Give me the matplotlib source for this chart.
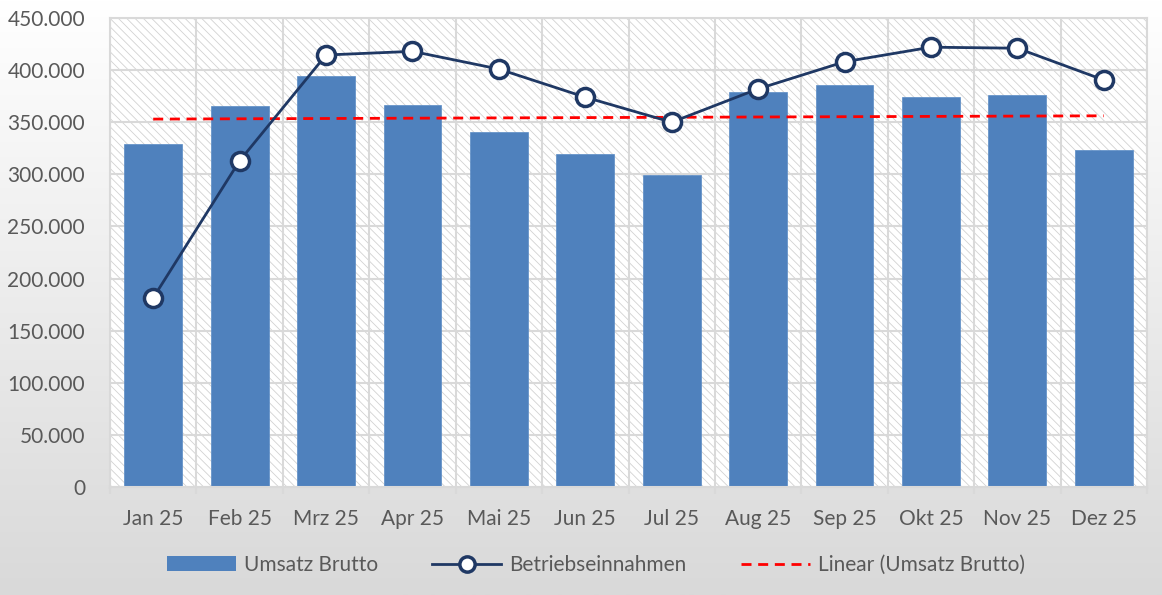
import numpy as np
import matplotlib
matplotlib.use("Agg")
import matplotlib.pyplot as plt
from matplotlib.patches import Rectangle, Patch
from matplotlib.ticker import FuncFormatter
from matplotlib.lines import Line2D
from matplotlib.colors import LinearSegmentedColormap

months = ["Jan 25", "Feb 25", "Mrz 25", "Apr 25", "Mai 25", "Jun 25",
          "Jul 25", "Aug 25", "Sep 25", "Okt 25", "Nov 25", "Dez 25"]
umsatz_brutto = [329000, 366000, 394000, 367000, 341000, 319500,
                 299500, 379000, 386000, 374500, 376000, 323500]
betriebseinnahmen = [181500, 313000, 414500, 418000, 401000, 374000,
                     350000, 382000, 408000, 422000, 421000, 390500]
yticks = [0, 50000, 100000, 150000, 200000, 250000, 300000, 350000, 400000, 450000]

plt.rcParams['font.family'] = ['Lato', 'DejaVu Sans']
plt.rcParams['hatch.linewidth'] = 0.6
plt.rcParams['hatch.color'] = '#d2d2d2'

fig = plt.figure(figsize=(11.62, 5.95), dpi=100)

# background gradient
bg = fig.add_axes([0, 0, 1, 1], zorder=-10)
grad = np.linspace(0, 1, 256).reshape(-1, 1)
cmap = LinearSegmentedColormap.from_list("g", ["#ffffff", "#d9d9d9"])
bg.imshow(grad, aspect='auto', cmap=cmap, extent=[0, 1, 0, 1], origin='upper')
bg.axis('off')

ax = fig.add_axes([110/1162, (595-487)/595, (1147-110)/1162, (487-18)/595])
ax.set_facecolor('white')
x = np.arange(len(months))
ax.set_xlim(-0.5, len(months) - 0.5)
ax.set_ylim(0, 450000)

ax.add_patch(Rectangle((0, 0), 1, 1, transform=ax.transAxes, facecolor='white',
                       hatch='\\\\\\\\', edgecolor='#d2d2d2', linewidth=0, zorder=0))

# gridlines
for yv in yticks:
    ax.axhline(yv, color='#d9d9d9', lw=1.5, zorder=1)
for xv in np.arange(-0.5, len(months), 1):
    ax.axvline(xv, color='#d9d9d9', lw=1.5, zorder=1)

ax.bar(x, umsatz_brutto, width=0.67, color='#4f81bd', edgecolor='#5b8cc6', lw=0.5, zorder=2)
ax.plot(x, betriebseinnahmen, color='#1f3864', lw=2, marker='o', markersize=13,
        markerfacecolor='white', markeredgecolor='#1f3864', markeredgewidth=2.5, zorder=4)

coef = np.polyfit(x, umsatz_brutto, 1)
ax.plot(x, np.polyval(coef, x), color='#ff0000', lw=2, ls=(0, (3.6, 2.4)), zorder=3)

for s in ax.spines.values():
    s.set_color('#d9d9d9')
    s.set_linewidth(1.5)

ax.set_yticks(yticks)
ax.yaxis.set_major_formatter(FuncFormatter(lambda v, p: f"{int(v):,}".replace(",", ".")))
ax.set_xticks(x)
ax.set_xticklabels(months)
ax.set_xticks(np.arange(-0.5, len(months), 1), minor=True)
ax.tick_params(axis='x', which='minor', length=5, width=1.5, color='#d9d9d9', direction='out')
ax.tick_params(axis='both', which='major', length=0, labelsize=15, labelcolor='#595959')
ax.tick_params(axis='y', pad=18)
ax.tick_params(axis='x', which='major', pad=16)

handles = [Patch(facecolor='#4f81bd', label='Umsatz Brutto'),
           Line2D([0], [0], color='#1f3864', lw=2, marker='o', markersize=11,
                  markerfacecolor='white', markeredgecolor='#1f3864', markeredgewidth=2.5,
                  label='Betriebseinnahmen'),
           Line2D([0], [0], color='#ff0000', lw=2, ls=(0, (3.6, 2.4)), label='Linear (Umsatz Brutto)')]
fig.legend(handles=handles, loc='center', bbox_to_anchor=(596/1162, 1 - 565/595), ncol=3,
           frameon=False, fontsize=15, labelcolor='#595959', handlelength=3.3,
           columnspacing=2.6, handletextpad=0.4)

fig.savefig('out.png', dpi=100)
